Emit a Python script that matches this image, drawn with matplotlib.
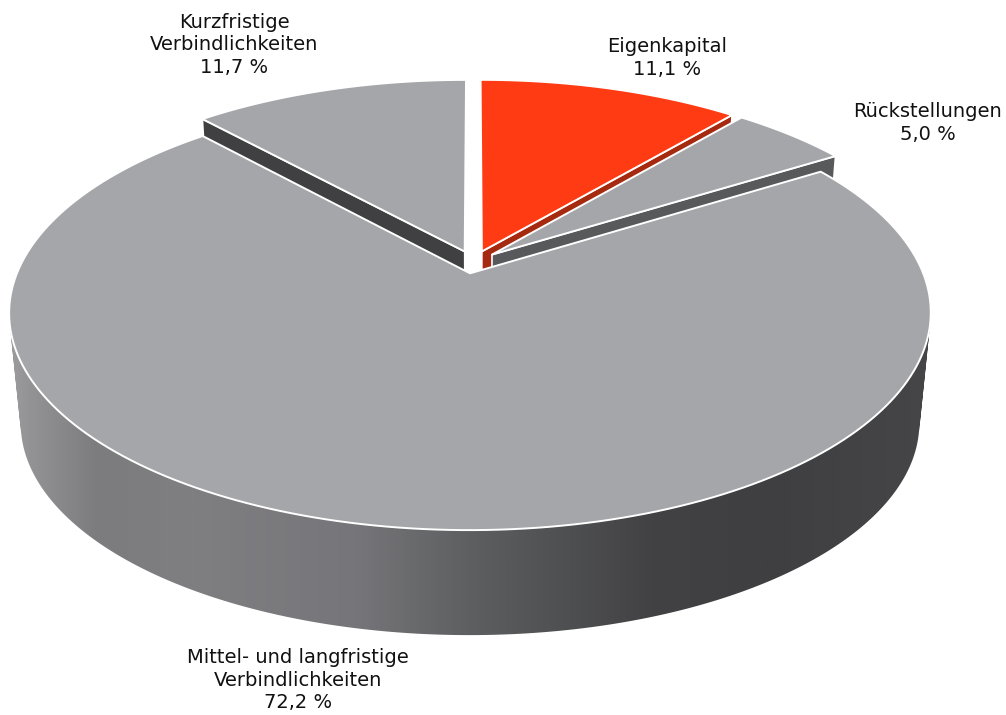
import numpy as np
import matplotlib
matplotlib.use("Agg")
import matplotlib.pyplot as plt
from matplotlib.patches import Polygon, PathPatch
from matplotlib.path import Path
from matplotlib.colors import LinearSegmentedColormap

# data (clockwise from 12 o'clock)
labels = ["Eigenkapital", "Rückstellungen",
          "Mittel- und langfristige\nVerbindlichkeiten", "Kurzfristige\nVerbindlichkeiten"]
values = [11.1, 5.0, 72.2, 11.7]
value_texts = ["11,1 %", "5,0 %", "72,2 %", "11,7 %"]

top_colors = ["#ff3b14", "#a5a6a9", "#a5a6a9", "#a5a6a9"]
wall_colors = ["#a52a10", "#58595b", None, "#404042"]
label_pos = [(667, 58), (928, 123), (298, 680), (234, 45)]

CX, CY, RX, RY, K = 473.5, 262, 448.7, 206, 0.18
EXPLODE = 0.055
DEPTH, SHRINK = 111.7, 0.975


def project(u, v, low=False):
    d = 1 + K * v
    x, y = RX * u / d, -RY * v / d
    if low:
        return CX + SHRINK * x, CY + DEPTH + SHRINK * y
    return CX + x, CY + y


fig = plt.figure(figsize=(10.06, 7.15), dpi=100)
ax = fig.add_axes([0, 0, 1, 1])
ax.axis("off")

frac = np.array(values) / sum(values) * 2 * np.pi
ends = np.cumsum(frac)
starts = ends - frac
mids = (starts + ends) / 2


def rim(i, n=200):
    t = np.linspace(starts[i], ends[i], n)
    ou, ov = EXPLODE * np.sin(mids[i]), EXPLODE * np.cos(mids[i])
    return ou + np.sin(t), ov + np.cos(t), ou, ov


def surface(i):
    u, v, ou, ov = rim(i)
    x, y = project(u, v)
    ax0, ay0 = project(ou, ov)
    return np.column_stack([np.r_[ax0, x], np.r_[ay0, y]])


def cut_wall(i):
    # the cut face that looks toward the viewer
    u, v, ou, ov = rim(i, 2)
    j = -1 if i == 0 or i == 1 else 0
    a = project(ou, ov)
    b = project(u[j], v[j])
    c = project(u[j], v[j], True)
    d = project(ou, ov, True)
    return [a, b, c, d]


# outer wall of the large slice with a horizontal gradient
MAIN = 2
u, v, _, _ = rim(MAIN, 400)
tx, ty = project(u, v)
bx, by = project(u, v, True)
verts, codes = [], []
for k in range(len(u) - 1):
    quad = [(tx[k], ty[k]), (tx[k + 1], ty[k + 1]), (bx[k + 1], by[k + 1]), (bx[k], by[k])]
    qx, qy = np.array(quad).T
    # same winding for every quad so that overlapping ones do not cancel
    if 0.5 * np.sum(qx * np.roll(qy, -1) - np.roll(qx, -1) * qy) < 0:
        quad = quad[::-1]
    verts += quad + [quad[0]]
    codes += [Path.MOVETO, Path.LINETO, Path.LINETO, Path.LINETO, Path.CLOSEPOLY]
wall_path = Path(verts, codes)
cmap = LinearSegmentedColormap.from_list("wall", [
    (0.0, "#a0a0a3"), (0.03, "#939396"), (0.1, "#7c7c7f"), (0.2, "#7f7f82"),
    (0.37, "#76767a"), (0.5, "#5c5d5f"), (0.68, "#424244"), (0.8, "#3f3f41"), (1.0, "#47474a")])
grad = cmap(np.linspace(0, 1, 512))[None, :, :3]
im = ax.imshow(grad, extent=(0, 960, 715, 0), aspect="auto", zorder=1, interpolation="bilinear")
clip = PathPatch(wall_path, transform=ax.transData, fc="none", ec="none")
ax.add_patch(clip)
im.set_clip_path(clip)

z = 2
for i in [3, 0, 1, 2]:
    if wall_colors[i]:
        ax.add_patch(Polygon(cut_wall(i), closed=True, fc=wall_colors[i], ec="white", lw=1.2, zorder=z,
                             joinstyle="round"))
        z += 1
    ax.add_patch(Polygon(surface(i), closed=True, fc=top_colors[i], ec="white", lw=1.4, zorder=z,
                         joinstyle="round"))
    z += 1

for lab, val, (lx, ly) in zip(labels, value_texts, label_pos):
    ax.text(lx, ly, lab + "\n" + val, ha="center", va="center", ma="center", fontsize=14,
            family="DejaVu Sans", color="#111111", linespacing=1.25, zorder=20)

ax.set_xlim(0, 1006)
ax.set_ylim(715, 0)
fig.savefig("out.png", dpi=100, facecolor="white")
